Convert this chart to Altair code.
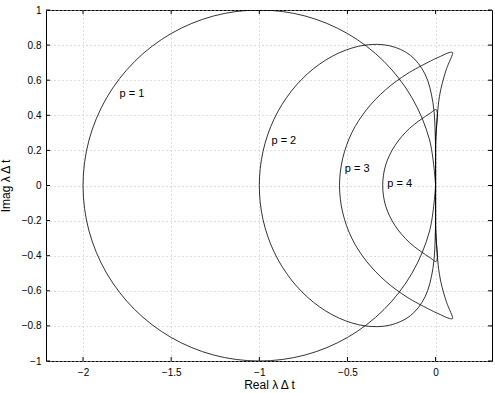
import altair as alt
import pandas as pd

# ---- curve points, upper half then lower half ----
p1_x = [0, -0.034, -0.134, -0.293, -0.5, -0.741, -1, -1.259, -1.5, -1.707, -1.866, -1.966, -2,
        -1.966, -1.866, -1.707, -1.5, -1.259, -1, -0.741, -0.5, -0.293, -0.134, -0.034, 0]
p1_y = [0, 0.259, 0.5, 0.707, 0.866, 0.966, 1, 0.966, 0.866, 0.707, 0.5, 0.259, 0,
        -0.259, -0.5, -0.707, -0.866, -0.966, -1, -0.966, -0.866, -0.707, -0.5, -0.259, 0]

p2_x = [0, -0.001, -0.015, -0.060, -0.143, -0.260, -0.4, -0.549, -0.692, -0.818, -0.917, -0.979, -1,
        -0.979, -0.917, -0.818, -0.692, -0.549, -0.4, -0.260, -0.143, -0.060, -0.015, -0.001, 0]
p2_y = [0, 0.255, 0.472, 0.635, 0.742, 0.796, 0.8, 0.755, 0.666, 0.538, 0.377, 0.194, 0,
        -0.194, -0.377, -0.538, -0.666, -0.755, -0.8, -0.796, -0.742, -0.635, -0.472, -0.255, 0]

p3_x = [0, 0.002, 0.022, 0.054, 0.071, 0.086, 0.095, 0.097, 0.091, 0.077, 0.055, 0.028, -0.005,
        -0.041, -0.162, -0.283, -0.391, -0.475, -0.527, -0.545,
        -0.527, -0.475, -0.391, -0.283, -0.162, -0.041,
        -0.005, 0.028, 0.055, 0.077, 0.091, 0.097, 0.095, 0.086, 0.071, 0.054, 0.022, 0.002, 0]
p3_y = [0, 0.261, 0.508, 0.640, 0.688, 0.723, 0.746, 0.757, 0.760, 0.757, 0.749, 0.736, 0.721,
        0.703, 0.636, 0.546, 0.433, 0.301, 0.154, 0,
        -0.154, -0.301, -0.433, -0.546, -0.636, -0.703,
        -0.721, -0.736, -0.749, -0.757, -0.760, -0.757, -0.746, -0.723, -0.688, -0.640, -0.508, -0.261, 0]

p4_x = [0, 0.000, 0.004, -0.032, -0.147, -0.231, -0.283, -0.3,
        -0.283, -0.231, -0.147, -0.032, 0.004, 0.000, 0]
p4_y = [0, 0.262, 0.432, 0.411, 0.326, 0.227, 0.117, 0,
        -0.117, -0.227, -0.326, -0.411, -0.432, -0.262, 0]

label_text = ["p = 1", "p = 2", "p = 3", "p = 4"]
label_x = [-1.793, -0.931, -0.515, -0.274]
label_y = [0.52, 0.254, 0.095, 0.006]

x_ticks = [-2, -1.5, -1, -0.5, 0]
y_ticks = [-1, -0.8, -0.6, -0.4, -0.2, 0, 0.2, 0.4, 0.6, 0.8, 1]

# ---- build tables ----
rows = []
for name, xs_, ys_ in [("p1", p1_x, p1_y), ("p2", p2_x, p2_y), ("p3", p3_x, p3_y), ("p4", p4_x, p4_y)]:
    for i, (a, b) in enumerate(zip(xs_, ys_)):
        rows.append({"curve": name, "i": i, "x": a, "y": b})
curves = pd.DataFrame(rows)
labels = pd.DataFrame({"t": label_text, "x": label_x, "y": label_y})
xt = pd.DataFrame({"v": x_ticks})
yt = pd.DataFrame({"v": y_ticks})

W, H = 446, 351
xs = alt.Scale(domain=[-2.21, 0.32], nice=False, zero=False)
ys = alt.Scale(domain=[-1, 1], nice=False, zero=False)

grid_dash = [1, 3]
grid_color = "#bdbdbd"

common = dict(grid=True, gridDash=grid_dash, gridColor=grid_color, gridWidth=1,
              ticks=False, domain=False, labelFontSize=10, titleFontSize=12,
              titleFontWeight="normal", labelColor="black", titleColor="black",
              format="~g", labelOverlap=False, labelFlush=False)
xaxis = alt.Axis(values=x_ticks, title="Real λ Δ t", labelPadding=6, titlePadding=2, **common)
yaxis = alt.Axis(values=y_ticks, title="Imag λ Δ t", labelPadding=5, titlePadding=9, **common)

base = alt.Chart(curves).mark_line(
    color="black", strokeWidth=0.8, interpolate="catmull-rom", clip=True
).encode(
    x=alt.X("x:Q", scale=xs, axis=xaxis),
    y=alt.Y("y:Q", scale=ys, axis=yaxis),
    detail="curve:N",
    order="i:Q",
)

text = alt.Chart(labels).mark_text(
    align="left", baseline="middle", fontSize=11, color="black"
).encode(x=alt.X("x:Q", scale=xs, axis=xaxis), y=alt.Y("y:Q", scale=ys, axis=yaxis), text="t:N")

tick_len = 4
xb = alt.Chart(xt).mark_rule(color="black", strokeWidth=1).encode(
    x=alt.X("v:Q", scale=xs, axis=xaxis), y=alt.value(H), y2=alt.value(H - tick_len))
xtop = alt.Chart(xt).mark_rule(color="black", strokeWidth=1).encode(
    x=alt.X("v:Q", scale=xs, axis=xaxis), y=alt.value(0), y2=alt.value(tick_len))
yl = alt.Chart(yt).mark_rule(color="black", strokeWidth=1).encode(
    y=alt.Y("v:Q", scale=ys, axis=yaxis), x=alt.value(0), x2=alt.value(tick_len))
yr = alt.Chart(yt).mark_rule(color="black", strokeWidth=1).encode(
    y=alt.Y("v:Q", scale=ys, axis=yaxis), x=alt.value(W), x2=alt.value(W - tick_len))

chart = alt.layer(base, text, xb, xtop, yl, yr).properties(
    width=W, height=H,
    autosize=alt.AutoSizeParams(type="none"),
    padding={"left": 46, "top": 10, "right": 3, "bottom": 32},
    background="white",
).configure(
    font="Liberation Sans"
).configure_view(
    stroke="black", strokeWidth=1
)

chart.save("out.html", embed_options={"renderer": "svg", "actions": False})
